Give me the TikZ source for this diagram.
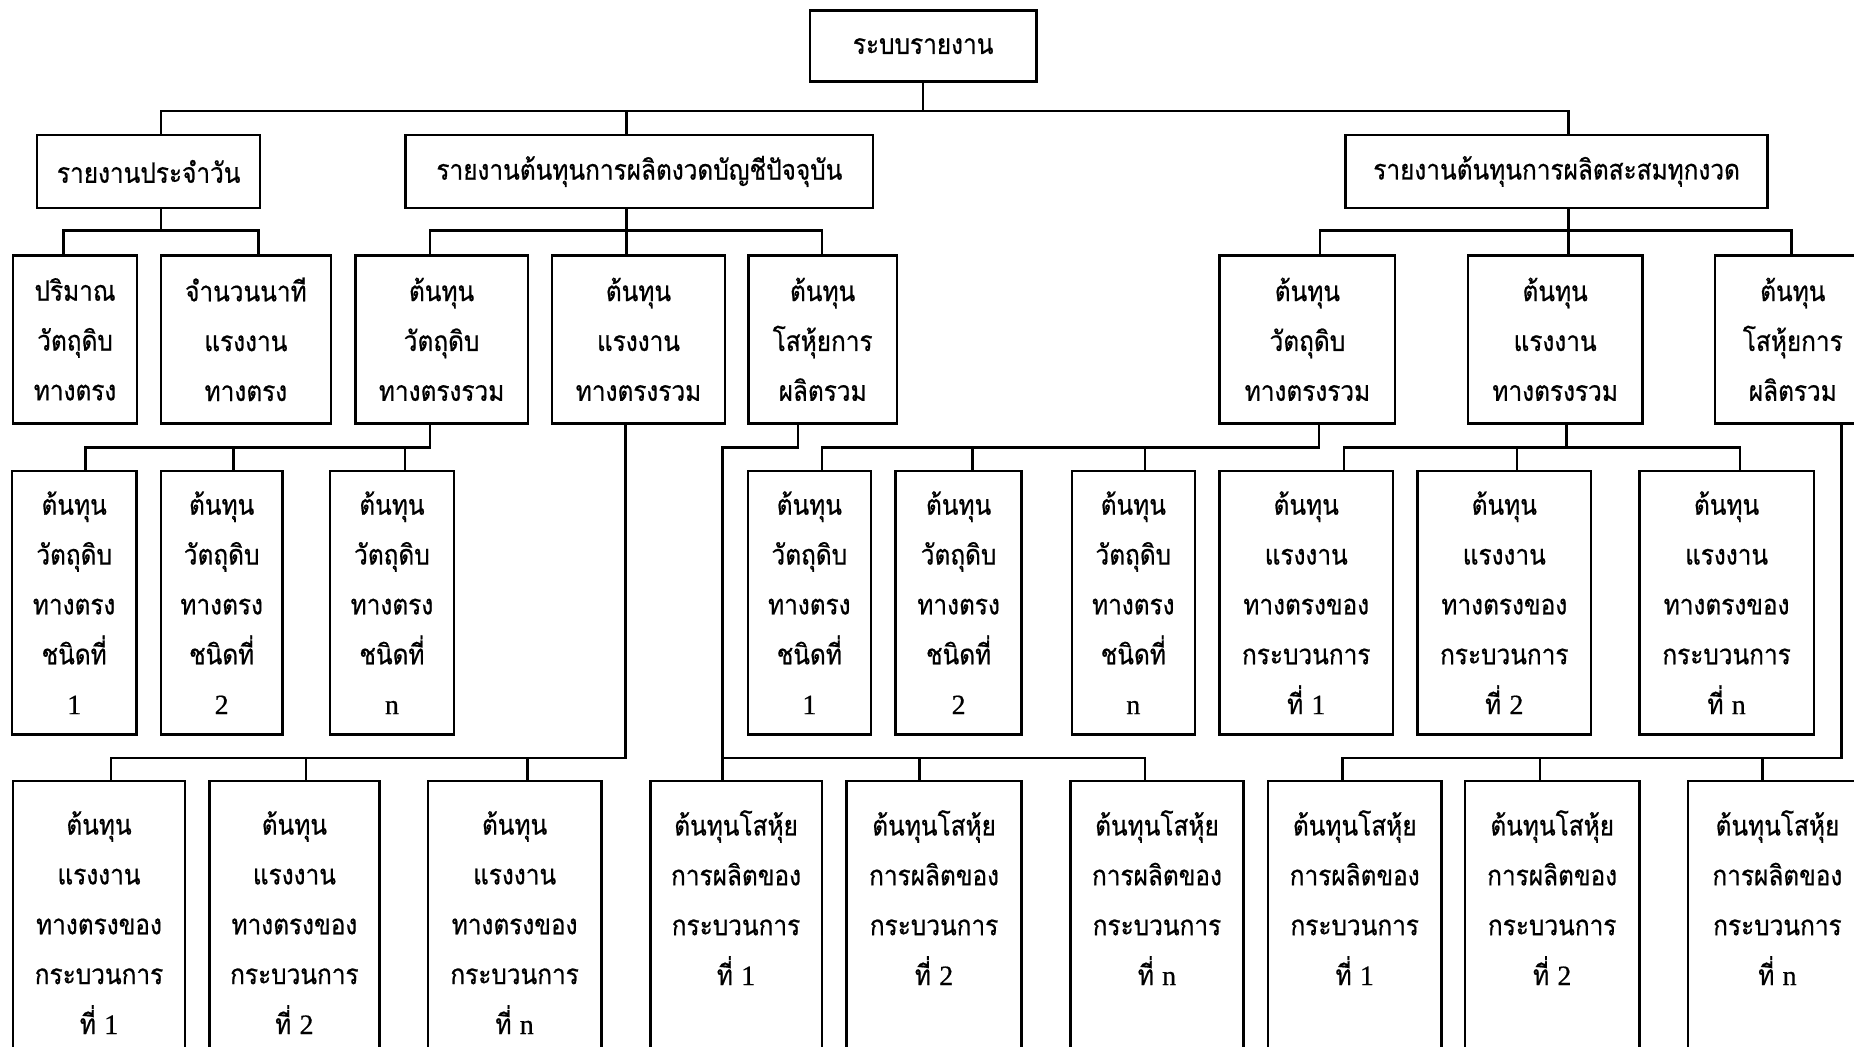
\documentclass[tikz,border=0pt]{standalone}
\usepackage{fontspec}
\newfontfamily\thai[Script=Thai,FakeStretch=0.87,FakeBold=0.6]{Loma}
\newfontfamily\lat[FakeBold=0.6]{Liberation Serif}
\newcommand\nm[1]{{\lat #1}}
\tikzset{
  ln/.style={line width=1.2pt, line cap=rect},
  bx/.style={draw, line width=1.2pt, inner sep=0pt, align=center,
    font=\thai\fontsize{13.5}{24}\selectfont},
}
% \bx{name}{x1}{y1}{x2}{y2}{text}
\newcommand\bx[6]{\node[bx, minimum width={(#4-#2)*0.02cm}, minimum height={(#5-#3)*0.02cm}]
  (#1) at ({(#2+#4)/2},{(#3+#5)/2}) {#6};}
\begin{document}
\begin{tikzpicture}[x=0.02cm,y=-0.02cm]
\useasboundingbox (0,0) rectangle (1568,885);
\clip (0,0) rectangle (1568,885);
\fill[white] (0,0) rectangle (1568,885);
% level 0 and 1
\bx{top}{685}{9}{876.5}{69}{\raisebox{-2pt}{ระบบรายงาน}}
\bx{A}{31.5}{114}{220}{176}{รายงานประจำวัน}
\bx{B}{343}{114}{738.5}{176}{รายงานต้นทุนการผลิตงวดบัญชีปัจจุบัน}
\bx{C}{1138}{114}{1495}{176}{รายงานต้นทุนการผลิตสะสมทุกงวด}
% level 2
\bx{p1}{11}{216}{116}{358}{ปริมาณ\\วัตถุดิบ\\ทางตรง}
\bx{p2}{136}{216}{280}{358}{จำนวนนาที\\แรงงาน\\ทางตรง}
\bx{p3}{300.5}{216}{446.5}{358}{ต้นทุน\\วัตถุดิบ\\ทางตรงรวม}
\bx{p4}{467}{216}{613}{358}{ต้นทุน\\แรงงาน\\ทางตรงรวม}
\bx{p5}{633}{216}{758.5}{358}{ต้นทุน\\โสหุ้ยการ\\ผลิตรวม}
\bx{q1}{1031.5}{216}{1180}{358}{ต้นทุน\\วัตถุดิบ\\ทางตรงรวม}
\bx{q2}{1241.5}{216}{1389}{358}{ต้นทุน\\แรงงาน\\ทางตรงรวม}
\bx{q3}{1450.5}{216}{1582}{358}{ต้นทุน\\โสหุ้ยการ\\ผลิตรวม}
% level 3
\bx{u1}{10}{398.5}{115.5}{621}{ต้นทุน\\วัตถุดิบ\\ทางตรง\\ชนิดที่\\\nm{1}}
\bx{u2}{136}{398.5}{239}{621}{ต้นทุน\\วัตถุดิบ\\ทางตรง\\ชนิดที่\\\nm{2}}
\bx{u3}{279}{398.5}{384}{621}{ต้นทุน\\วัตถุดิบ\\ทางตรง\\ชนิดที่\\\nm{n}}
\bx{t1}{632.5}{398.5}{736.5}{621}{ต้นทุน\\วัตถุดิบ\\ทางตรง\\ชนิดที่\\\nm{1}}
\bx{t2}{757.5}{398.5}{864}{621}{ต้นทุน\\วัตถุดิบ\\ทางตรง\\ชนิดที่\\\nm{2}}
\bx{t3}{906.5}{398.5}{1010.5}{621}{ต้นทุน\\วัตถุดิบ\\ทางตรง\\ชนิดที่\\\nm{n}}
\bx{s1}{1031.5}{398.5}{1178}{621}{ต้นทุน\\แรงงาน\\ทางตรงของ\\กระบวนการ\\ที่ \nm{1}}
\bx{s2}{1199}{398.5}{1345.5}{621}{ต้นทุน\\แรงงาน\\ทางตรงของ\\กระบวนการ\\ที่ \nm{2}}
\bx{s3}{1386.5}{398.5}{1534}{621}{ต้นทุน\\แรงงาน\\ทางตรงของ\\กระบวนการ\\ที่ \nm{n}}
% level 4
\bx{v1}{11}{660.5}{156.5}{900}{ต้นทุน\\แรงงาน\\ทางตรงของ\\กระบวนการ\\ที่ \nm{1}}
\bx{v2}{177}{660.5}{321}{900}{ต้นทุน\\แรงงาน\\ทางตรงของ\\กระบวนการ\\ที่ \nm{2}}
\bx{v3}{362}{660.5}{508.5}{900}{ต้นทุน\\แรงงาน\\ทางตรงของ\\กระบวนการ\\ที่ \nm{n}}
\bx{m1}{550}{660.5}{695}{900}{ต้นทุนโสหุ้ย\\การผลิตของ\\กระบวนการ\\ที่ \nm{1}\\\phantom{ที่ 1}}
\bx{m2}{716}{660.5}{864}{900}{ต้นทุนโสหุ้ย\\การผลิตของ\\กระบวนการ\\ที่ \nm{2}\\\phantom{ที่ 1}}
\bx{m3}{905.5}{660.5}{1051.5}{900}{ต้นทุนโสหุ้ย\\การผลิตของ\\กระบวนการ\\ที่ \nm{n}\\\phantom{ที่ 1}}
\bx{r1}{1072.5}{660.5}{1219}{900}{ต้นทุนโสหุ้ย\\การผลิตของ\\กระบวนการ\\ที่ \nm{1}\\\phantom{ที่ 1}}
\bx{r2}{1239}{660.5}{1386.5}{900}{ต้นทุนโสหุ้ย\\การผลิตของ\\กระบวนการ\\ที่ \nm{2}\\\phantom{ที่ 1}}
\bx{r3}{1427.5}{660.5}{1579}{900}{ต้นทุนโสหุ้ย\\การผลิตของ\\กระบวนการ\\ที่ \nm{n}\\\phantom{ที่ 1}}
% bus levels
\coordinate (Y1) at (0,94);
% top -> level 1
\coordinate (b0l) at (136,94); \coordinate (b0m) at (530,94); \coordinate (b0r) at (1326.5,94);
\draw[ln] (top.south) -- (top.south |- Y1);
\draw[ln] (b0l) -- (b0r);
\draw[ln] (b0l) -- (b0l |- A.north);
\draw[ln] (b0m) -- (b0m |- B.north);
\draw[ln] (b0r) -- (b0r |- C.north);
% A -> p1,p2
\coordinate (a0) at (136,195); \coordinate (a1) at (53.5,195); \coordinate (a2) at (218.5,195);
\draw[ln] (a0 |- A.south) -- (a0);
\draw[ln] (a1) -- (a2);
\draw[ln] (a1) -- (a1 |- p1.north);
\draw[ln] (a2) -- (a2 |- p2.north);
% B -> p3,p4,p5
\coordinate (c0) at (530,195); \coordinate (c1) at (363.5,195); \coordinate (c3) at (695,195);
\draw[ln] (c0 |- B.south) -- (c0);
\draw[ln] (c1) -- (c3);
\draw[ln] (c1) -- (c1 |- p3.north);
\draw[ln] (c0) -- (c0 |- p4.north);
\draw[ln] (c3) -- (c3 |- p5.north);
% C -> q1,q2,q3
\coordinate (d0) at (1326.5,195); \coordinate (d1) at (1116.5,195); \coordinate (d3) at (1515,195);
\draw[ln] (d0 |- C.south) -- (d0);
\draw[ln] (d1) -- (d3);
\draw[ln] (d1) -- (d1 |- q1.north);
\draw[ln] (d0) -- (d0 |- q2.north);
\draw[ln] (d3) -- (d3 |- q3.north);
% p3 -> u
\coordinate (e0) at (363.5,378.6); \coordinate (e1) at (72.5,378.6); \coordinate (e2) at (197.5,378.6); \coordinate (e3) at (342.5,378.6);
\draw[ln] (e0 |- p3.south) -- (e0) -- (e1);
\draw[ln] (e1) -- (e1 |- u1.north);
\draw[ln] (e2) -- (e2 |- u2.north);
\draw[ln] (e3) -- (e3 |- u3.north);
% p4 -> v
\coordinate (f0) at (529,641); \coordinate (f1) at (94,641); \coordinate (f2) at (259,641); \coordinate (f3) at (446,641);
\draw[ln] (f0 |- p4.south) -- (f0) -- (f1);
\draw[ln] (f1) -- (f1 |- v1.north);
\draw[ln] (f2) -- (f2 |- v2.north);
\draw[ln] (f3) -- (f3 |- v3.north);
% p5 -> m
\coordinate (g0) at (675,378.6); \coordinate (g1) at (611,378.6); \coordinate (g4) at (611,641);
\coordinate (g2) at (777.5,641); \coordinate (g3) at (968.5,641);
\draw[ln] (g0 |- p5.south) -- (g0) -- (g1) -- (g1 |- m1.north);
\draw[ln] (g4) -- (g3);
\draw[ln] (g2) -- (g2 |- m2.north);
\draw[ln] (g3) -- (g3 |- m3.north);
% q1 -> t
\coordinate (h0) at (1115.5,378.6); \coordinate (h1) at (695,378.6); \coordinate (h2) at (822.5,378.6); \coordinate (h3) at (968.5,378.6);
\draw[ln] (h0 |- q1.south) -- (h0) -- (h1);
\draw[ln] (h1) -- (h1 |- t1.north);
\draw[ln] (h2) -- (h2 |- t2.north);
\draw[ln] (h3) -- (h3 |- t3.north);
% q2 -> s
\coordinate (i0) at (1325,378.6); \coordinate (i1) at (1136.5,378.6); \coordinate (i2) at (1283,378.6); \coordinate (i3) at (1471.5,378.6);
\draw[ln] (i0 |- q2.south) -- (i0);
\draw[ln] (i1) -- (i3);
\draw[ln] (i1) -- (i1 |- s1.north);
\draw[ln] (i2) -- (i2 |- s2.north);
\draw[ln] (i3) -- (i3 |- s3.north);
% q3 -> r
\coordinate (k0) at (1557.5,641); \coordinate (k1) at (1135.5,641); \coordinate (k2) at (1302.5,641); \coordinate (k3) at (1490.5,641);
\draw[ln] (k0 |- q3.south) -- (k0) -- (k1);
\draw[ln] (k1) -- (k1 |- r1.north);
\draw[ln] (k2) -- (k2 |- r2.north);
\draw[ln] (k3) -- (k3 |- r3.north);
\end{tikzpicture}
\end{document}
